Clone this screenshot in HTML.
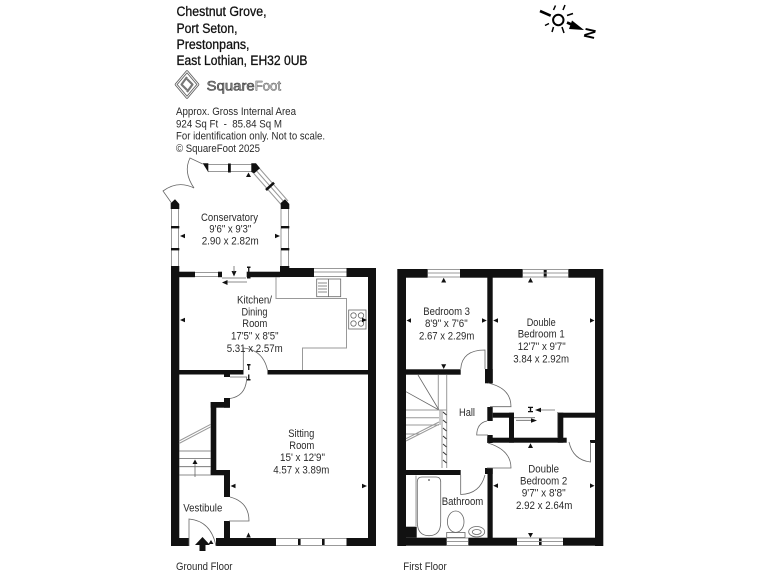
<!DOCTYPE html>
<html><head><meta charset="utf-8"><style>
html,body{margin:0;padding:0;background:#fff;width:768px;height:576px;overflow:hidden}
svg{display:block;filter:blur(.3px)}
text{font-family:"Liberation Sans",sans-serif;fill:#2a2a2a;font-size:11px}
.h{font-size:13.5px;fill:#111;stroke:#111;stroke-width:.3}
.s{font-size:11px}
.g{stroke:#999;stroke-width:1;fill:none}
.l{stroke:#666;stroke-width:.8;fill:none}
</style></head><body>
<svg width="768" height="576" viewBox="0 0 768 576" xmlns="http://www.w3.org/2000/svg">
<!-- header -->
<text class="h" x="176.5" y="16" textLength="90" lengthAdjust="spacingAndGlyphs">Chestnut Grove,</text>
<text class="h" x="176.5" y="33" textLength="61" lengthAdjust="spacingAndGlyphs">Port Seton,</text>
<text class="h" x="176.5" y="49" textLength="73" lengthAdjust="spacingAndGlyphs">Prestonpans,</text>
<text class="h" x="176.5" y="65" textLength="131" lengthAdjust="spacingAndGlyphs">East Lothian, EH32 0UB</text>
<!-- logo -->
<g fill="none" stroke-linejoin="round">
<path d="M187 71.5 L198 84.5 L187 97.5 L176 84.5 Z" stroke="#666" stroke-width="2.6"/>
<path d="M187 71.5 L198 84.5 L187 97.5 L176 84.5 Z" stroke="#fff" stroke-width=".9"/>
<path d="M187 77 L181.5 84.5 L187 90 M187 79 L192.5 84.5 L187 92" stroke="#777" stroke-width="2.2"/>
</g>
<text x="206.7" y="90.7" textLength="48" lengthAdjust="spacingAndGlyphs" style="font-size:13.5px;fill:#999;stroke:#333;stroke-width:.55">Square</text>
<text x="254.7" y="90.7" textLength="26.3" lengthAdjust="spacingAndGlyphs" style="font-size:13.5px;fill:#ddd;stroke:#555;stroke-width:.5">Foot</text>
<text x="176" y="115" textLength="120" lengthAdjust="spacingAndGlyphs">Approx. Gross Internal Area</text>
<text x="176" y="127.5" textLength="106" lengthAdjust="spacingAndGlyphs" xml:space="preserve">924 Sq Ft  -  85.84 Sq M</text>
<text x="176" y="139.5" textLength="149" lengthAdjust="spacingAndGlyphs">For identification only. Not to scale.</text>
<text x="176" y="152" textLength="84" lengthAdjust="spacingAndGlyphs">© SquareFoot 2025</text>
<!-- compass -->
<circle cx="558.3" cy="20" r="5.2" fill="none" stroke="#000" stroke-width="2"/>
<g stroke="#000" stroke-width="1.5">
<path d="M540 11 L550.7 15.7" stroke-width="2.6"/>
<path d="M553.5 10 L555.5 5.5 M563 10 L565 5 M567 15.5 L573 13.5 M549 23.5 L545 25.5 M553.5 27 L552 32 M562 27 L564 33"/>
<path d="M567 22.5 L575 26" stroke-width="2.8"/>
</g>
<polygon points="572,20.5 584,30 569,29" fill="#000"/>
<text transform="translate(586,27) rotate(103)" style="font-size:15px;font-weight:bold;fill:#000">N</text>
<!-- GROUND: walls -->
<g fill="#111">
<rect x="171" y="266" width="8.3" height="280"/>
<rect x="368" y="268" width="8" height="278"/>
<rect x="179" y="271.7" width="16" height="5.5"/>
<rect x="218" y="271.7" width="4" height="5.5"/>
<rect x="246.7" y="271.7" width="33.3" height="5.5"/>
<rect x="280" y="266" width="9.3" height="11"/>
<rect x="289" y="268" width="25" height="9"/>
<rect x="346.5" y="268" width="22" height="9"/>
<rect x="179" y="370" width="64.5" height="4.5"/>
<rect x="267.5" y="370" width="101" height="4.5"/>
<rect x="224" y="374" width="6" height="3"/>
<rect x="224" y="398" width="6" height="9.7"/>
<rect x="210.7" y="402" width="19" height="5.7"/>
<rect x="210.7" y="402" width="5.6" height="73"/>
<rect x="210.7" y="470" width="19" height="5.3"/>
<rect x="224" y="470" width="6" height="27"/>
<rect x="224" y="521" width="6" height="17"/>
<rect x="171" y="538" width="18" height="8"/>
<rect x="216" y="538" width="60" height="8"/>
<rect x="346.5" y="538" width="29.5" height="8"/>
<rect x="298" y="538" width="2.6" height="8"/>
<rect x="322" y="538" width="2.6" height="8"/>
</g>
<!-- GROUND: windows -->
<path class="g" d="M195 272.5H218M195 276.5H218"/>
<path class="l" d="M222 278H246M227 282H247"/>
<path class="g" d="M314 268.5H346.5M314 272H346.5M314 276.5H346.5"/>
<path class="g" d="M276 538.5H346.5M276 545.5H346.5"/>
<path class="g" d="M171.5 209V266M178.5 209V266M281 209V266M288.5 209V266"/>
<path class="g" d="M208 164.5H252M208 171.5H252"/>
<path class="g" d="M256.5 165 L288 201 M252.5 172 L281.5 205 M254.5 168.5 L285 203"/>
<g fill="#111">
<rect x="171" y="226" width="8.3" height="2.4"/><rect x="171" y="248" width="8.3" height="2.4"/>
<rect x="281" y="226" width="8.3" height="2.4"/><rect x="281" y="248" width="8.3" height="2.4"/>
<rect x="228" y="163.5" width="2.8" height="9"/>
<path d="M266 190 L274 182.7" stroke="#111" stroke-width="2.6"/>
<polygon points="170.7,203.3 175,199.3 179.3,204 179.3,209 170.7,209"/>
<polygon points="280.7,203 285,199.3 289.3,204 289.3,209 280.7,209"/>
<polygon points="202.7,163.3 208.3,163.3 208.3,172.3"/>
<polygon points="251.3,163.3 256,163.3 260,168.3 254.3,173.3 251.3,172"/>
</g>
<!-- Doors ground -->
<path class="l" d="M202.7 164 L190 158 Q183 172 194 188"/>
<path class="l" d="M171.5 203 L163 191 Q178 180 194 188"/>
<path class="l" d="M243.3 370 V348 Q263 350 267.5 370"/>
<path class="l" d="M230 377 H246.7 V378 Q246 396 230 398.5"/>
<path class="l" d="M229 521 H249 Q249 502 230 497"/>
<path class="l" d="M189 546 V519 Q211 521 216 546"/>
<!-- kitchen counters -->
<path class="g" d="M276 277V298.5H346.5V348H302.5V370"/>
<rect class="l" x="316.7" y="279" width="24" height="17.7"/>
<path class="l" d="M328.5 279V296.7M318 283H327M318 286H327M318 289H327M318 292H327"/>
<rect class="l" x="348.7" y="310" width="17.3" height="19"/>
<circle class="l" cx="353.5" cy="315.5" r="2.7"/><circle class="l" cx="361" cy="315.5" r="2.7"/>
<circle class="l" cx="353.5" cy="323.5" r="2.7"/><circle class="l" cx="361" cy="323.5" r="2.7"/>
<!-- stairs ground -->
<path class="g" d="M179 441L210.7 424.3M179 443.5L210.7 426.8"/>
<path class="l" d="M179 451H211M179 458.5H211M179 466.7H211M179 475H211"/>
<path class="l" d="M195 477V462"/>
<!-- GROUND arrows -->
<g fill="#111">
<polygon points="234,276.5 231.5,271 236.5,271"/>
<path d="M234 266V272" stroke="#666" stroke-width=".8"/>
<polygon points="222,282.5 227.5,280 227.5,285"/>
<path d="M247 266.5H250.5V268H249.4V277H250.5V278.5H247V277H248.1V268H247Z"/>
<path d="M247 364H250.5V365.5H249.4V370H248.1V365.5H247Z"/>
<path d="M247 380.5H250.5V379H249.4V374.5H248.1V379H247Z"/>
<polygon points="180,236 185,233.7 185,238.3"/>
<polygon points="280,236 275,233.7 275,238.3"/>
<polygon points="248.5,172.5 246,177 251,177"/>
<polygon points="180,320 185,317.7 185,322.3"/>
<polygon points="367,320 362,317.7 362,322.3"/>
<polygon points="230.5,486 235.5,483.7 235.5,488.3"/>
<polygon points="367,486 362,483.7 362,488.3"/>
<polygon points="248.5,532.5 246.2,537.5 250.8,537.5"/>
<polygon points="195,459.5 192.5,464 197.5,464"/>
<polygon points="211,540 208.5,544 213.5,544"/>
<polygon points="202.5,537 195,545 199.5,545 199.5,551 205.5,551 205.5,545 210,545"/>
</g>
<!-- GROUND text -->
<text x="201" y="221" textLength="57" lengthAdjust="spacingAndGlyphs">Conservatory</text>
<text x="209.3" y="232.5" textLength="42" lengthAdjust="spacingAndGlyphs">9'6" x 9'3"</text>
<text x="201.7" y="244.5" textLength="57" lengthAdjust="spacingAndGlyphs">2.90 x 2.82m</text>
<text x="237" y="303.5" textLength="35" lengthAdjust="spacingAndGlyphs">Kitchen/</text>
<text x="241.5" y="315.5" textLength="26" lengthAdjust="spacingAndGlyphs">Dining</text>
<text x="242.3" y="327" textLength="25" lengthAdjust="spacingAndGlyphs">Room</text>
<text x="231" y="339.5" textLength="47.5" lengthAdjust="spacingAndGlyphs">17'5" x 8'5"</text>
<text x="226.7" y="352" textLength="56" lengthAdjust="spacingAndGlyphs">5.31 x 2.57m</text>
<text x="288.3" y="437" textLength="26" lengthAdjust="spacingAndGlyphs">Sitting</text>
<text x="289.3" y="449" textLength="25" lengthAdjust="spacingAndGlyphs">Room</text>
<text x="280" y="461" textLength="45" lengthAdjust="spacingAndGlyphs">15' x 12'9"</text>
<text x="273.3" y="473.3" textLength="56" lengthAdjust="spacingAndGlyphs">4.57 x 3.89m</text>
<text x="183.3" y="511.7" textLength="39" lengthAdjust="spacingAndGlyphs">Vestibule</text>
<text x="176" y="570" textLength="56.5" lengthAdjust="spacingAndGlyphs">Ground Floor</text>
<!-- FIRST walls -->
<g fill="#111">
<rect x="397.3" y="269" width="8.7" height="277"/>
<rect x="595" y="269" width="8.3" height="277"/>
<rect x="406" y="269" width="21.7" height="8.7"/>
<rect x="460" y="269" width="62.7" height="8.7"/>
<rect x="543.7" y="269" width="3" height="8.7"/>
<rect x="568.3" y="269" width="27" height="8.7"/>
<rect x="487.3" y="277" width="5.4" height="106.3"/>
<rect x="485" y="369" width="7.7" height="14.3"/>
<rect x="406" y="369.3" width="54.7" height="5.4"/>
<rect x="487.3" y="407" width="5.4" height="14"/>
<rect x="487.3" y="435" width="5.4" height="8"/>
<rect x="487.3" y="437.7" width="79.4" height="5"/>
<rect x="492.7" y="412.7" width="21.3" height="5"/>
<rect x="509" y="412.7" width="5" height="30"/>
<rect x="557.7" y="412.7" width="5.6" height="30"/>
<rect x="557.7" y="412.7" width="37.3" height="5"/>
<rect x="590" y="440" width="5" height="3"/>
<rect x="485" y="468" width="7.7" height="6"/>
<rect x="487.5" y="468" width="5.2" height="70"/>
<rect x="406" y="470" width="54.7" height="5"/>
<rect x="406" y="526.7" width="10.7" height="11"/>
<rect x="406" y="537.7" width="40.7" height="8"/>
<rect x="468.3" y="537.7" width="48.7" height="8"/>
<rect x="539" y="537.7" width="2.6" height="8"/>
<rect x="563" y="537.7" width="32" height="8"/>
</g>
<path class="g" d="M427.7 269.5H460M427.7 273H460M427.7 277H460M522.7 269.5H568.3M522.7 273H568.3M522.7 277H568.3"/>
<path class="g" d="M446.7 538H468.3M446.7 541.5H468.3M446.7 545.5H468.3M517 538H563M517 541.5H563M517 545.5H563"/>
<!-- doors first -->
<path class="l" d="M485 369V350Q462 350 460.7 369"/>
<path class="l" d="M488 383Q511 388 511 406.7H490"/>
<path class="l" d="M487 421Q477 423 476.7 435H488"/>
<path class="l" d="M488 443Q511 450 511 468H487"/>
<path class="l" d="M460.7 475V494.5Q480 494 485 475"/>
<path class="l" d="M569 442Q573 460 590.5 462V442"/>
<!-- cupboard lines -->
<path class="l" d="M514 417.7H535M516 420.3H531M541 410H555M557.7 412V438"/>
<!-- stairs -->
<path class="g" d="M438.3 375V410M446.7 375V468M442 410V468"/>
<path class="l" d="M418 375L439 410M406 391.7L439 410"/>
<path class="g" d="M406 410H446.7M406 417.7H439M406 425H439M440 410V425M406 434H420"/>
<path class="g" d="M406 441L439 424.3M406 438.7L439 422"/>
<path class="l" style="stroke:#333;stroke-width:1" d="M443 412L446.5 415M443 420L446.5 423M443 428L446.5 431M443 436L446.5 439M443 444L446.5 447M443 452L446.5 455M443 460L446.5 463"/>
<!-- bathroom -->
<path class="l" d="M417.3 482Q417.3 477 422 477H436Q440.7 477 440.7 482V522Q440.7 535.7 429 535.7Q417.3 535.7 417.3 522Z"/>
<path class="g" d="M416 475.5V526"/>
<ellipse class="l" cx="455.7" cy="521.7" rx="8.3" ry="10.7"/>
<rect class="l" x="446.7" y="532.5" width="18.3" height="5"/>
<ellipse class="l" cx="476.7" cy="531.7" rx="8" ry="5.2"/>
<ellipse class="l" cx="476.7" cy="532" rx="4.5" ry="2.5"/>
<g fill="#111">
<polygon points="443.7,277.7 441.2,282.5 446.2,282.5"/>
<polygon points="530.5,277.7 528,282.5 533,282.5"/>
<polygon points="406.5,320.5 411,318.2 411,322.8"/>
<polygon points="486.8,320.5 482,318.2 482,322.8"/>
<polygon points="493.2,320.5 498,318.2 498,322.8"/>
<polygon points="594.5,320.5 590,318.2 590,322.8"/>
<polygon points="443.7,369 441.2,364.3 446.2,364.3"/>
<polygon points="493.2,485.7 498,483.4 498,488"/>
<polygon points="594.5,485.7 590,483.4 590,488"/>
<polygon points="530.5,537.5 528,533 533,533"/>
<polygon points="530.5,443.2 528,448 533,448"/>
<polygon points="535,410 541,407.7 541,412.3"/>
<polygon points="537,420.5 531,418.2 531,422.8"/>
<path d="M528 406.7H533V408H531.2V411H533V412.3H528V411H529.8V408H528Z"/>
<circle cx="429" cy="480" r="1" fill="#777"/>
</g>
<text x="423.3" y="315" textLength="46.7" lengthAdjust="spacingAndGlyphs">Bedroom 3</text>
<text x="425" y="327" textLength="42.7" lengthAdjust="spacingAndGlyphs">8'9" x 7'6"</text>
<text x="419" y="339.3" textLength="55.3" lengthAdjust="spacingAndGlyphs">2.67 x 2.29m</text>
<text x="526.7" y="326" textLength="29" lengthAdjust="spacingAndGlyphs">Double</text>
<text x="517.7" y="337.7" textLength="47" lengthAdjust="spacingAndGlyphs">Bedroom 1</text>
<text x="517.7" y="350" textLength="48" lengthAdjust="spacingAndGlyphs">12'7" x 9'7"</text>
<text x="513.3" y="362.7" textLength="55.7" lengthAdjust="spacingAndGlyphs">3.84 x 2.92m</text>
<text x="459" y="416" textLength="16" lengthAdjust="spacingAndGlyphs">Hall</text>
<text x="528.3" y="472.3" textLength="30.7" lengthAdjust="spacingAndGlyphs">Double</text>
<text x="520" y="484.3" textLength="47.3" lengthAdjust="spacingAndGlyphs">Bedroom 2</text>
<text x="521.7" y="496.3" textLength="44" lengthAdjust="spacingAndGlyphs">9'7" x 8'8"</text>
<text x="516" y="509" textLength="56.3" lengthAdjust="spacingAndGlyphs">2.92 x 2.64m</text>
<text x="441.7" y="505" textLength="41.6" lengthAdjust="spacingAndGlyphs">Bathroom</text>
<text x="403.3" y="570" textLength="43.4" lengthAdjust="spacingAndGlyphs">First Floor</text>
</svg>
</body></html>
